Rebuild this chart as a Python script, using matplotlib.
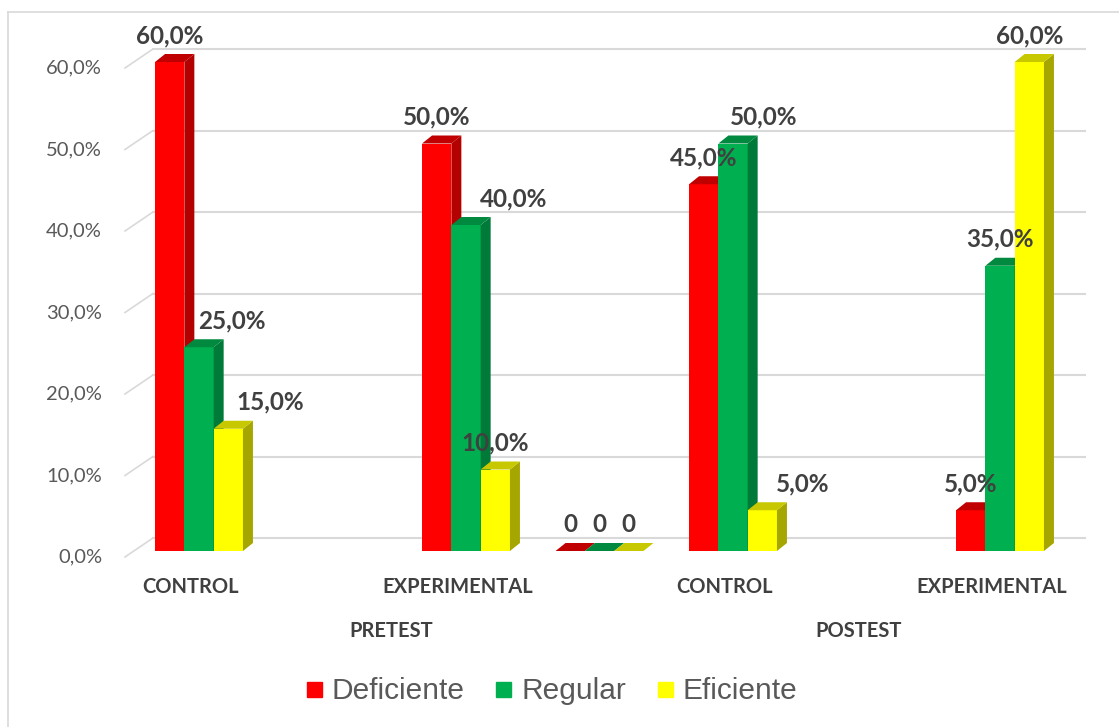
import matplotlib.pyplot as plt
from matplotlib.patches import Polygon
from matplotlib.lines import Line2D

# datos del gráfico
categorias = ['CONTROL', '', 'EXPERIMENTAL', '', 'CONTROL', '', 'EXPERIMENTAL']
grupos = ['PRETEST', 'POSTEST']
grupo_slots = [[0, 1, 2, 3], [4, 5, 6]]
series = ['Deficiente', 'Regular', 'Eficiente']
deficiente = [60, None, 50, 0, 45, None, 5]
regular = [25, None, 40, 0, 50, None, 35]
eficiente = [15, None, 10, 0, 5, None, 60]
valores = [deficiente, regular, eficiente]
yticks = [0, 10, 20, 30, 40, 50, 60]

# (frente, lateral, superior)
colores = [('#FF0000', '#B30000', '#C00000'),
           ('#00B050', '#007A38', '#00893F'),
           ('#FFFF00', '#A6A600', '#C8C800')]
# desplazamiento horizontal de las etiquetas (px)
desplaz = [[0, 0, 0, 0, 0, 0, 0],
           [33, 0, 48, 0, 31, 0, 0],
           [42, 0, 0, 0, 40, 0, 0]]

W, H = 1119, 727
fig = plt.figure(figsize=(W / 100, H / 100), dpi=100)

# geometría en píxeles
X0, SX = 199, 133.5   # centro del slot 0, px por slot
Y0, SY = 551, 8.15    # base frontal (desde arriba), px por %
ax = fig.add_axes([0, 0, 1, 1])
ax.set_xlim(-X0 / SX, (W - X0) / SX)
ax.set_ylim((Y0 - H) / SY, Y0 / SY)
ax.axis('off')


def px(d):
    return d / SX


def py(d):
    return d / SY


bw = px(29.3)
DX, DY = px(10), py(8)

# marco exterior
xb, yb = px(8 - X0), py(Y0 - 12)
ax.plot([xb, xb], [yb, py(Y0 - H - 10)], color='#D9D9D9', lw=1.2, zorder=0)
ax.plot([xb, px(W + 10 - X0)], [yb, yb], color='#D9D9D9', lw=1.2, zorder=0)

# líneas de cuadrícula del fondo y etiquetas del eje
gx0, gx1, lx = px(153 - X0), px(1085 - X0), px(125 - X0)
for v in yticks:
    ax.plot([gx0, gx1], [v + py(13), v + py(13)], color='#D9D9D9', lw=1.5, zorder=1)
    ax.plot([lx, gx0], [v - py(6), v + py(13)], color='#D9D9D9', lw=1.2, zorder=1)
    ax.text(px(102 - X0), v - py(6), f'{v:.1f}%'.replace('.', ','),
            ha='right', va='center', fontsize=14.5, color='#595959', family='Lato')

# barras con efecto 3D
z = 2
for k in range(len(categorias)):
    for i, serie in enumerate(valores):
        v = serie[k]
        if v is None:
            continue
        x1 = k - 1.5 * bw + i * bw
        x2 = x1 + bw
        fr, lat, sup = colores[i]
        ax.bar(x1, v, width=bw, align='edge', color=fr, linewidth=0, zorder=z)
        if v > 0:
            ax.add_patch(Polygon([(x2, 0), (x2, v), (x2 + DX, v + DY), (x2 + DX, DY)],
                                 closed=True, color=lat, lw=0, zorder=z))
        ax.add_patch(Polygon([(x1, v), (x2, v), (x2 + DX, v + DY), (x1 + DX, v + DY)],
                             closed=True, color=sup, lw=0, zorder=z))
        z += 1
        txt = '0' if v == 0 else f'{v:.1f}%'.replace('.', ',')
        ax.text((x1 + x2) / 2 + px(desplaz[i][k]), v + py(19), txt,
                ha='center', va='baseline', fontsize=17.5, fontweight='bold',
                color='#404040', family='Lato', zorder=100)

# etiquetas de categorías
for k, c in enumerate(categorias):
    if c:
        ax.text(k - px(8), py(-36), c, ha='center', va='center', fontsize=14.5,
                fontweight='bold', color='#404040', family='Lato')
for g, slots in zip(grupos, grupo_slots):
    ax.text(sum(slots) / len(slots) - px(8), py(-80), g, ha='center', va='center',
            fontsize=14.5, fontweight='bold', color='#404040', family='Lato')

# leyenda
handles = [Line2D([], [], marker='s', ls='', markersize=10.8, color=c[0]) for c in colores]
fig.legend(handles, series, loc='center', bbox_to_anchor=(551 / W, 1 - 691 / H),
           ncol=3, frameon=False, prop={'family': 'Liberation Sans', 'size': 21.5},
           labelcolor='#595959', handlelength=0.6, handletextpad=0.3,
           columnspacing=1.0, borderpad=0)

fig.savefig('out.png', dpi=100)
